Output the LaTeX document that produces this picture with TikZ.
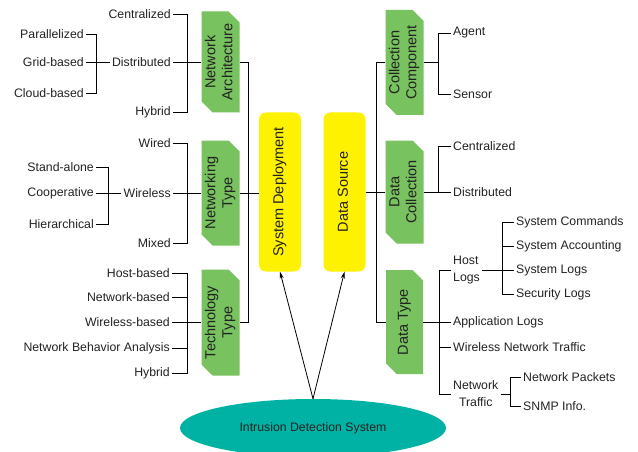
\documentclass[tikz,border=0pt]{standalone}
\usepackage{fontspec}
\setmainfont{Liberation Sans}
\usepackage{graphicx}
\usetikzlibrary{shapes.geometric,shapes.misc,arrows.meta}

\definecolor{boxgreen}{RGB}{120,194,96}
\definecolor{topicyellow}{RGB}{255,242,0}
\definecolor{idsteal}{RGB}{0,178,164}
\definecolor{labelgray}{RGB}{34,34,34}

% text that runs bottom to top inside the boxes
\newcommand{\vlabel}[1]{\rotatebox{90}{\begin{tabular}{@{}c@{}}#1\end{tabular}}}

\tikzset{
  category/.style={chamfered rectangle, chamfered rectangle corners={north east,south west},
    chamfered rectangle xsep=5pt, chamfered rectangle ysep=6pt,
    fill=boxgreen, minimum width=38pt, inner xsep=-3pt, inner ysep=0pt, text=labelgray,
    font=\fontsize{14.5}{17}\selectfont},
  topic/.style={rectangle, rounded corners=7pt, fill=topicyellow, minimum width=42pt,
    minimum height=159pt, inner sep=0pt, text=labelgray, font=\fontsize{14.5}{17}\selectfont},
  leaf/.style={inner sep=2pt, text=labelgray, font=\fontsize{12.3}{17}\selectfont},
  branch/.style={line width=0.9pt},
  pointer/.style={line width=0.8pt, -{Stealth[length=7pt,width=4pt]}}
}

\begin{document}
\begin{tikzpicture}[x=1pt,y=-1pt]
      \useasboundingbox (0,0) rectangle (638,452);

      % Root
      \node[ellipse, fill=idsteal, minimum width=266pt, minimum height=58pt, inner sep=0pt,
        text=labelgray, font=\fontsize{12.3}{15}\selectfont] (ids) at (313,428) {Intrusion Detection System};

      % Main topics
      \node[topic] (sd) at (280,192) {\vlabel{System Deployment}};
      \node[topic] (ds) at (344.5,192) {\vlabel{Data Source}};
      \draw[pointer] (ids.north) -- (sd.south);
      \draw[pointer] (ids.north) -- (ds.south);

      % System deployment categories
      \node[category, minimum height=101pt] (na) at (220.5,62) {\vlabel{Network\\Architecture}};
      \node[category, minimum height=105pt] (nt) at (220.5,193) {\vlabel{Networking\\Type}};
      \node[category, minimum height=106pt] (tt) at (220.5,322.5) {\vlabel{Technology\\Type}};
      \coordinate (lbus) at (248,0);
      \draw[branch] (na.east) -- (na.east -| lbus) -- (tt.east -| lbus) -- (tt.east);
      \draw[branch] (nt.east) -- (nt.east -| sd.west);

      % Network Architecture
      \node[leaf, anchor=east] (na-cen) at (173,14) {Centralized};
      \node[leaf, anchor=east] (na-dis) at (173,62) {Distributed};
      \node[leaf, anchor=east] (na-hyb) at (173,112) {Hybrid};
      \coordinate (na-fork) at (187,0);
      \draw[branch] (na-cen.east) -| (na-fork |- na-hyb) -- (na-hyb.east);
      \draw[branch] (na-dis.east) -- (na.west);
      \node[leaf, anchor=east] (na-par) at (86,34) {Parallelized};
      \node[leaf, anchor=east] (na-grid) at (86,62) {Grid-based};
      \node[leaf, anchor=east] (na-cloud) at (86,93) {Cloud-based};
      \coordinate (na-sub) at (96,0);
      \draw[branch] (na-par.east) -| (na-sub |- na-cloud) -- (na-cloud.east);
      \draw[branch] (na-grid.east) -- (na-dis.west);

      % Networking Type
      \node[leaf, anchor=east] (nt-wired) at (173,143) {Wired};
      \node[leaf, anchor=east] (nt-wless) at (173,193) {Wireless};
      \node[leaf, anchor=east] (nt-mixed) at (173,243) {Mixed};
      \coordinate (nt-fork) at (187,0);
      \draw[branch] (nt-wired.east) -| (nt-fork |- nt-mixed) -- (nt-mixed.east);
      \draw[branch] (nt-wless.east) -- (nt.west);
      \node[leaf, anchor=east] (nt-alone) at (96,167) {Stand-alone};
      \node[leaf, anchor=east] (nt-coop) at (96,193) {Cooperative};
      \node[leaf, anchor=east] (nt-hier) at (96,224) {Hierarchical};
      \coordinate (nt-sub) at (108,0);
      \draw[branch] (nt-alone.east) -| (nt-sub |- nt-hier) -- (nt-hier.east);
      \draw[branch] (nt-coop.east) -- (nt-wless.west);

      % Technology Type
      \node[leaf, anchor=east] (tt-host) at (172,273) {Host-based};
      \node[leaf, anchor=east] (tt-net) at (172,297) {Network-based};
      \node[leaf, anchor=east] (tt-wless) at (172,322.5) {Wireless-based};
      \node[leaf, anchor=east] (tt-nba) at (172,348) {Network Behavior Analysis};
      \node[leaf, anchor=east] (tt-hyb) at (172,373) {Hybrid};
      \coordinate (tt-fork) at (187,0);
      \draw[branch] (tt-host.east) -| (tt-fork |- tt-hyb) -- (tt-hyb.east);
      \draw[branch] (tt-net.east) -- (tt-net.east -| tt-fork);
      \draw[branch] (tt-nba.east) -- (tt-nba.east -| tt-fork);
      \draw[branch] (tt-wless.east) -- (tt.west);

      % Data source categories
      \node[category, minimum width=37pt, minimum height=105pt] (cc) at (404.5,62.5) {\vlabel{Collection\\Component}};
      \node[category, minimum width=37pt, minimum height=103pt] (dc) at (404.5,192) {\vlabel{Data\\Collection}};
      \node[category, minimum width=37pt, minimum height=104pt] (dt) at (404.5,322) {\vlabel{Data Type}};
      \coordinate (rbus) at (376,0);
      \draw[branch] (cc.west) -- (cc.west -| rbus) -- (dt.west -| rbus) -- (dt.west);
      \draw[branch] (ds.east) -- (ds.east -| dc.west);

      % Collection Component
      \node[leaf, anchor=west] (cc-agent) at (451,33) {Agent};
      \node[leaf, anchor=west] (cc-sensor) at (451,94) {Sensor};
      \coordinate (cc-fork) at (438,0);
      \draw[branch] (cc-agent.west) -| (cc-fork |- cc-sensor) -- (cc-sensor.west);
      \draw[branch] (cc.east) -- (cc.east -| cc-fork);

      % Data Collection
      \node[leaf, anchor=west] (dc-cen) at (451,146) {Centralized};
      \node[leaf, anchor=west] (dc-dis) at (451,192) {Distributed};
      \coordinate (dc-fork) at (438,0);
      \draw[branch] (dc-cen.west) -| (dc-fork |- dc-dis);
      \draw[branch] (dc.east) -- (dc-dis.west);

      % Data Type
      \node[leaf, anchor=west, align=left] (hl) at (451,270) {Host\\Logs};
      \node[leaf, anchor=west] (dt-app) at (451,322) {Application Logs};
      \node[leaf, anchor=west] (dt-wnt) at (451,347) {Wireless Network Traffic};
      \node[leaf, anchor=west, align=center] (ntr) at (451,394) {Network\\Traffic};
      \coordinate (dt-fork) at (439,0);
      \draw[branch] (hl.west) -| (dt-fork |- ntr) -- (ntr.west);
      \draw[branch] (dt.east) -- (dt-app.west);
      \draw[branch] (dt-wnt.west) -- (dt-wnt.west -| dt-fork);

      % Host Logs
      \node[leaf, anchor=west] (hl-cmd) at (514,222) {System Commands};
      \node[leaf, anchor=west] (hl-acc) at (514,246) {System Accounting};
      \node[leaf, anchor=west] (hl-logs) at (514,270) {System Logs};
      \node[leaf, anchor=west] (hl-sec) at (514,294) {Security Logs};
      \coordinate (hl-fork) at (502,0);
      \draw[branch] (hl-cmd.west) -| (hl-fork |- hl-sec) -- (hl-sec.west);
      \draw[branch] (hl-acc.west) -- (hl-acc.west -| hl-fork);
      \draw[branch] (hl.east) -- (hl-logs.west);

      % Network Traffic
      \node[leaf, anchor=west] (ntr-pk) at (521,377) {Network Packets};
      \node[leaf, anchor=west] (ntr-snmp) at (521,406) {SNMP Info.};
      \coordinate (ntr-fork) at (510,0);
      \draw[branch] (ntr-pk.west) -| (ntr-fork |- ntr-snmp) -- (ntr-snmp.west);
      \draw[branch] (ntr.east) -- (ntr.east -| ntr-fork);

\end{tikzpicture}
\end{document}
